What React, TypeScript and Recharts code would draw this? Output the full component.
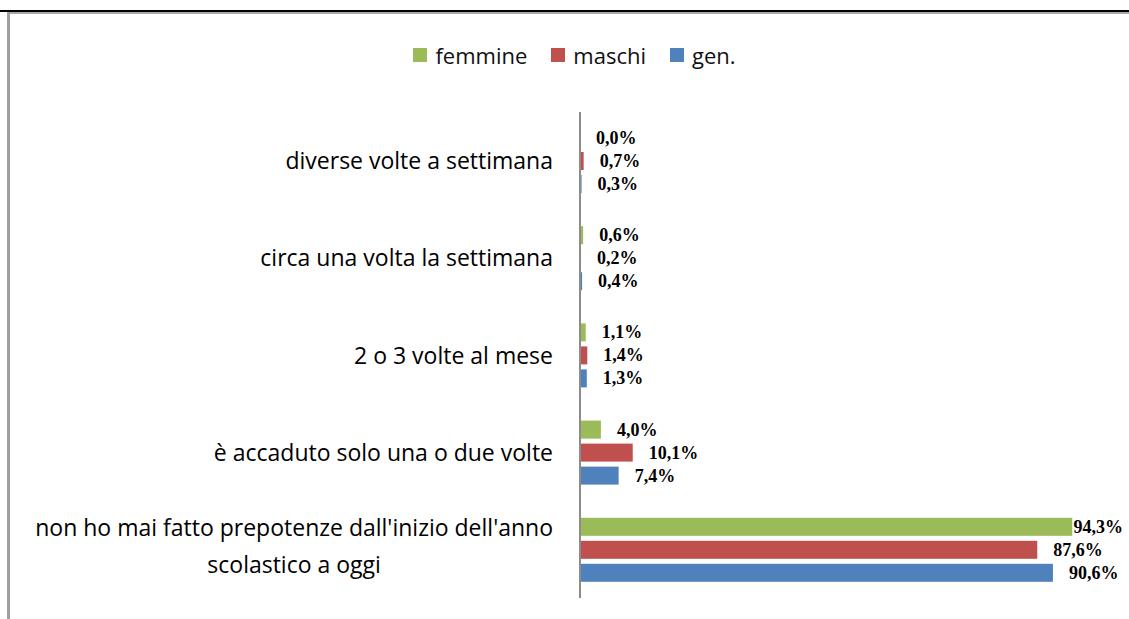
import React from 'react';
import { BarChart, Bar, XAxis, YAxis } from 'recharts';

const categories = [
  'diverse volte a settimana',
  'circa una volta la settimana',
  '2 o 3 volte al mese',
  'è accaduto solo una o due volte',
  "non ho mai fatto prepotenze dall'inizio dell'anno scolastico a oggi",
];
const femmine = [0.0, 0.6, 1.1, 4.0, 94.3];
const maschi = [0.7, 0.2, 1.4, 10.1, 87.6];
const gen = [0.3, 0.4, 1.3, 7.4, 90.6];
const seriesKeys = ['femmine', 'maschi', 'gen'];
const seriesNames = ['femmine', 'maschi', 'gen.'];
const seriesColors = ['#9BBB59', '#C0504D', '#4F81BD'];

const data = categories.map((c, i) => ({
  category: c,
  femmine: femmine[i],
  maschi: maschi[i],
  gen: gen[i],
}));

const W = 1129;
const H = 619;
const CAT_FONT_SIZE = 23;
const CAT_FONT = `${CAT_FONT_SIZE}px "Open Sans"`;
const LABEL_FONT = 'bold 18px "Liberation Serif"';

let ctx: CanvasRenderingContext2D | null = null;
function measure(text: string, font: string): number {
  if (!ctx) ctx = document.createElement('canvas').getContext('2d');
  if (!ctx) return text.length * 10;
  ctx.font = font;
  return ctx.measureText(text).width;
}

function wrap(text: string, maxChars: number): string[] {
  const words = text.split(' ');
  const lines: string[] = [];
  let cur = '';
  for (const w of words) {
    const next = cur ? cur + ' ' + w : w;
    if (next.length > maxChars && cur) {
      lines.push(cur);
      cur = w;
    } else {
      cur = next;
    }
  }
  if (cur) lines.push(cur);
  return lines;
}

const fmt = (v: number) => v.toFixed(1).replace('.', ',') + '%';

const CatTick = (props: any) => {
  const { x, y, payload } = props;
  const lines = wrap(String(payload.value), 50);
  const style = { fontFamily: '"Open Sans"', fontSize: CAT_FONT_SIZE, fill: '#000' };
  if (lines.length === 1) {
    return (
      <text x={x} y={y + 8.5} textAnchor="end" style={style}>
        {lines[0]}
      </text>
    );
  }
  const maxW = Math.max(...lines.map((l) => measure(l, CAT_FONT)));
  const cx = x - maxW / 2;
  const lh = 37;
  const n = lines.length;
  return (
    <text textAnchor="middle" style={style}>
      {lines.map((l, i) => (
        <tspan key={i} x={cx} y={y + 5.5 + (i - (n - 1) / 2) * lh}>
          {l}
        </tspan>
      ))}
    </text>
  );
};

const makeShape = (key: string, color: string) => (props: any) => {
  const { x, y, width, height, payload } = props;
  const value = Number(payload ? payload[key] : props.value);
  const w = value > 0 ? Math.max(0, width) : 0;
  const text = fmt(value);
  const tw = measure(text, LABEL_FONT);
  let tx = x + w + 16;
  if (tx + tw > 1123) tx = 1123 - tw;
  return (
    <g>
      {w > 0 ? <rect x={x} y={y} width={w} height={height} fill={color} /> : null}
      <text
        x={tx}
        y={y + height / 2}
        dominantBaseline="central"
        style={{ fontFamily: '"Liberation Serif"', fontWeight: 'bold', fontSize: 18, fill: '#000' }}
      >
        {text}
      </text>
    </g>
  );
};

export default function App() {
  return (
    <div style={{ position: 'absolute', left: 0, top: 0, width: W, height: H, background: '#fff', overflow: 'hidden' }}>
      <div style={{ position: 'absolute', left: 0, top: 10, width: W, height: 2, background: '#000' }} />
      <div style={{ position: 'absolute', left: 8, top: 12, width: W - 8, height: 2, background: '#A8A8A8' }} />
      <div style={{ position: 'absolute', left: 7, top: 12, width: 3, height: H - 12, background: '#A0A0A0' }} />
      <div
        style={{
          position: 'absolute',
          left: 0,
          top: 41,
          width: W,
          display: 'flex',
          justifyContent: 'center',
          paddingLeft: 20,
          boxSizing: 'border-box',
          fontFamily: '"Open Sans"',
          fontSize: 22,
          color: '#111',
          lineHeight: '28px',
        }}
      >
        {seriesNames.map((n, i) => (
          <div key={n} style={{ display: 'flex', alignItems: 'center', marginRight: i < seriesNames.length - 1 ? 24 : 0 }}>
            <span style={{ width: 14, height: 14, background: seriesColors[i], display: 'inline-block', marginRight: 8 }} />
            <span>{n}</span>
          </div>
        ))}
      </div>
      <div style={{ position: 'absolute', left: 0, top: 0 }}>
        <BarChart
          width={W}
          height={H}
          data={data}
          layout="vertical"
          margin={{ top: 112, right: 27, bottom: 21, left: 0 }}
          barSize={18}
          barGap={5}
        >
          <XAxis type="number" domain={[0, 100]} hide />
          <YAxis
            type="category"
            dataKey="category"
            width={580}
            tickSize={0}
            tickMargin={27}
            tickLine={false}
            axisLine={{ stroke: '#8C8C8C', strokeWidth: 2 }}
            tick={<CatTick />}
            interval={0}
          />
          {seriesKeys.map((k, i) => (
            <Bar
              key={k}
              dataKey={k}
              name={seriesNames[i]}
              fill={seriesColors[i]}
              minPointSize={0.01}
              shape={makeShape(k, seriesColors[i])}
              isAnimationActive={false}
            />
          ))}
        </BarChart>
      </div>
    </div>
  );
}
